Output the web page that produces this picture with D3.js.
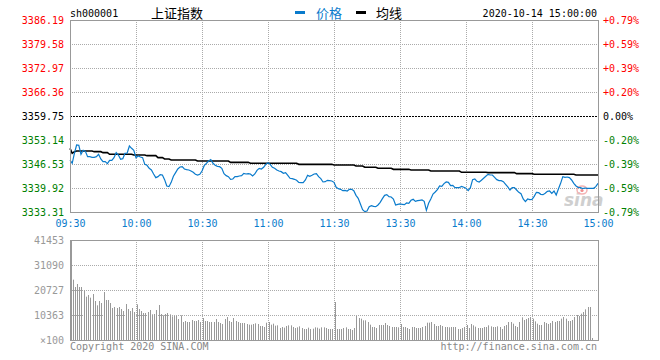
<!DOCTYPE html>
<html><head><meta charset="utf-8">
<script src="https://cdn.jsdelivr.net/npm/d3@7/dist/d3.min.js"></script>
<style>
html,body{margin:0;padding:0;background:#fff;}
svg{display:block;}
.mono{font-family:"DejaVu Sans Mono",monospace;font-size:10px;}
</style></head>
<body>
<svg id="c" width="660" height="360"></svg>
<script>
// ---------------- data ----------------
const symbol = "sh000001";
const indexName = "上证指数";
const stamp = "2020-10-14 15:00:00";
const prevClose = 3359.75;
const priceTicks = [3386.19,3379.58,3372.97,3366.36,3359.75,3353.14,3346.53,3339.92,3333.31];
const pctTicks = ["+0.79%","+0.59%","+0.39%","+0.20%","0.00%","-0.20%","-0.39%","-0.59%","-0.79%"];
const timeTicks = [0,30,60,90,120,150,180,210,240];
const timeLabels = ["09:30","10:00","10:30","11:00","11:30","13:30","14:00","14:30","15:00"];
const volTicks = [41453,31090,20727,10363,0];
const volLabels = ["41453","31090","20727","10363","×100"];

const price = [
3347.64,3346.72,3349.47,3351.77,3351.67,3349.20,3350.30,3350.02,3348.55,3348.55,
3348.37,3348.37,3348.55,3349.20,3347.91,3347.18,3347.18,3346.63,3347.54,3347.54,
3348.28,3349.65,3349.01,3347.82,3348.00,3349.47,3349.56,3351.49,3350.85,3350.30,
3348.28,3348.74,3348.46,3348.28,3346.44,3346.17,3345.34,3344.88,3343.78,3342.77,
3343.05,3343.60,3343.50,3342.22,3340.47,3340.29,3341.48,3343.14,3344.15,3345.16,
3345.71,3345.80,3345.16,3344.97,3344.88,3344.61,3344.24,3343.69,3343.50,3343.69,
3344.61,3346.07,3346.72,3347.36,3347.73,3346.72,3346.17,3345.89,3345.80,3345.34,
3343.87,3343.32,3343.05,3342.31,3342.40,3343.05,3343.05,3343.23,3343.32,3343.96,
3343.78,3343.87,3343.78,3343.23,3343.78,3344.79,3345.34,3345.16,3345.62,3346.44,
3346.90,3346.44,3345.62,3345.34,3344.88,3344.61,3344.42,3343.96,3344.15,3343.41,
3342.59,3342.49,3342.31,3342.04,3341.48,3341.39,3341.39,3342.13,3343.41,3343.14,
3343.41,3343.78,3343.87,3343.05,3342.49,3341.58,3341.67,3342.04,3341.94,3341.85,
3341.48,3340.11,3339.74,3339.56,3339.19,3339.28,3339.10,3339.56,3339.56,3339.19,
3337.90,3337.08,3335.52,3333.96,3333.41,3333.59,3334.78,3335.06,3334.88,3334.78,
3335.24,3335.98,3336.99,3337.90,3338.09,3337.54,3337.45,3336.89,3335.24,3335.43,
3335.52,3335.43,3335.33,3335.79,3335.70,3336.53,3336.80,3336.25,3336.44,3336.53,
3336.62,3336.25,3333.77,3335.70,3336.89,3338.27,3338.82,3339.46,3340.47,3340.38,
3341.12,3341.58,3341.48,3340.57,3340.66,3340.02,3340.02,3340.02,3340.38,3340.11,
3339.83,3339.19,3340.02,3342.22,3342.40,3341.76,3341.58,3342.04,3342.59,3343.14,
3343.69,3343.50,3343.50,3342.86,3342.22,3341.94,3341.94,3341.67,3340.93,3340.20,
3339.37,3340.02,3340.02,3339.37,3338.73,3338.36,3336.89,3336.16,3336.89,3336.71,
3336.80,3337.63,3338.73,3338.64,3338.18,3338.09,3338.46,3339.01,3339.10,3338.46,
3339.10,3338.00,3339.65,3341.21,3343.05,3342.86,3342.95,3342.77,3342.13,3341.21,
3340.47,3340.11,3340.02,3339.74,3339.92,3339.83,3339.83,3339.83,3339.83,3340.29,
3341.21];

const avgPrice = [
3350.85,3349.47,3349.93,3350.11,3350.11,3350.11,3350.11,3350.11,3350.11,3350.11,
3350.11,3349.93,3349.93,3349.93,3349.93,3349.65,3349.65,3349.65,3349.20,3349.20,
3349.20,3349.20,3349.20,3349.20,3349.20,3349.20,3349.20,3349.20,3349.20,3349.01,
3349.01,3349.01,3349.01,3349.01,3349.01,3348.83,3348.83,3348.83,3348.83,3348.83,
3348.28,3348.28,3348.28,3347.91,3347.91,3347.91,3347.64,3347.64,3347.64,3347.64,
3347.64,3347.64,3347.64,3347.64,3347.64,3347.64,3347.64,3347.64,3347.36,3347.36,
3347.36,3347.36,3347.36,3347.36,3347.36,3347.36,3347.36,3347.36,3347.36,3347.36,
3347.36,3347.36,3347.36,3346.99,3346.99,3346.99,3346.99,3346.99,3346.99,3346.99,
3346.99,3346.99,3346.72,3346.72,3346.72,3346.72,3346.72,3346.72,3346.72,3346.72,
3346.72,3346.72,3346.72,3346.72,3346.72,3346.72,3346.72,3346.72,3346.72,3346.72,
3346.72,3346.72,3346.72,3346.72,3346.44,3346.44,3346.44,3346.44,3346.44,3346.44,
3346.44,3346.44,3346.44,3346.44,3346.44,3346.44,3346.44,3346.44,3346.44,3346.44,
3346.26,3346.26,3346.26,3346.26,3346.26,3346.26,3346.26,3346.26,3346.26,3346.26,
3345.98,3345.98,3345.98,3345.98,3345.62,3345.62,3345.62,3345.62,3345.62,3345.62,
3345.34,3345.34,3345.34,3345.34,3345.34,3345.34,3345.34,3345.06,3345.06,3345.06,
3345.06,3345.06,3345.06,3345.06,3345.06,3344.88,3344.88,3344.88,3344.88,3344.88,
3344.88,3344.88,3344.88,3344.88,3344.61,3344.61,3344.61,3344.61,3344.61,3344.61,
3344.61,3344.61,3344.61,3344.61,3344.61,3344.61,3344.61,3344.61,3344.24,3344.24,
3344.24,3344.24,3344.24,3344.24,3344.24,3344.24,3344.24,3344.24,3344.24,3344.24,
3344.15,3344.15,3344.15,3344.15,3344.15,3344.15,3344.15,3344.15,3344.15,3344.15,
3344.15,3344.15,3344.15,3343.87,3343.87,3343.87,3343.87,3343.87,3343.87,3343.87,
3343.87,3343.69,3343.69,3343.69,3343.69,3343.69,3343.69,3343.69,3343.69,3343.69,
3343.69,3343.69,3343.69,3343.69,3343.69,3343.69,3343.69,3343.69,3343.69,3343.69,
3343.50,3343.50,3343.50,3343.50,3343.50,3343.50,3343.50,3343.50,3343.50,3343.50,
3343.50];

// volume, in units of 100
const volume = [
41453,25011,21971,23214,21971,21971,20589,17963,18654,17549,
19069,16167,14371,16167,15338,19898,16582,16582,15338,13265,
13680,13265,13680,12851,12022,14923,12851,12022,13265,11607,
14785,12851,12022,11193,11193,11607,12436,10640,10778,12436,
14509,10778,10225,10778,11193,10640,9811,9949,9949,8705,
10225,7462,7876,7462,7462,8291,7876,7876,8291,7462,
9120,7876,7876,7462,7462,7462,8705,7462,7047,6633,
8705,9534,7876,7462,9120,7876,7462,7047,7047,7047,
6633,6356,6356,6633,6909,6633,5804,5804,5389,7185,
7462,6356,6771,5942,6080,4974,5389,5113,5804,6080,
6080,5389,4974,5251,5665,4974,4560,4560,5113,4560,
4698,5251,5113,4698,5251,5251,4974,4560,4560,4560,
15753,4560,4560,4560,4974,5251,4560,4560,4145,4974,
9949,9120,8844,8153,8153,7462,6356,5389,5389,4974,
6218,6218,6218,7047,6218,5804,5389,5389,5389,5251,
6633,5389,5389,4974,4560,5389,5389,4974,4974,4974,
5389,5804,7185,7185,7462,6633,5804,5804,6218,5804,
5389,5389,5251,5389,5389,5389,4560,4560,4974,5389,
6218,4974,6633,6080,5527,4974,4974,4974,5389,5389,
6080,5665,5389,5389,5665,5389,4560,5804,6218,7462,
7462,6771,5804,5389,7462,9396,8291,8705,9120,9534,
8844,7738,6771,6218,6218,7462,7047,6633,7047,7876,
7462,7876,7876,8844,9534,8844,7876,7876,8291,9534,
10363,9949,10916,11607,12713,13680,13680,829,0,0,
0];

// ---------------- drawing ----------------
const svg = d3.select("#c");
const L = 70, R = 598, PT = 20, PB = 212, VT = 240, VB = 340;
const RED = "#ff0000", GREEN = "#008000", BLUE = "#0a7bcc", GRID = "#aaaaaa", FRAME = "#999999";

const x = d3.scaleLinear().domain([0, 240]).range([L, R]);
const y = d3.scaleLinear().domain([priceTicks[priceTicks.length-1], priceTicks[0]]).range([PB, PT]);
const yv = d3.scaleLinear().domain([0, volTicks[0]]).range([VB, VT]);

const px = v => Math.round(v) + 0.5;

// grids - price panel
const gGrid = svg.append("g");
priceTicks.forEach(t => {
  if (t === priceTicks[0] || t === priceTicks[priceTicks.length-1]) return;
  gGrid.append("line").attr("x1", L).attr("x2", R).attr("y1", px(y(t))).attr("y2", px(y(t)))
    .attr("stroke", t === prevClose ? "#000" : GRID)
    .attr("stroke-dasharray", t === prevClose ? "2,1" : "1,1");
});
timeTicks.slice(1, -1).forEach(t => {
  gGrid.append("line").attr("x1", px(x(t))).attr("x2", px(x(t))).attr("y1", PT).attr("y2", PB)
    .attr("stroke", GRID).attr("stroke-dasharray", "1,1");
});
// grids - volume panel
volTicks.slice(1, -1).forEach(t => {
  gGrid.append("line").attr("x1", L).attr("x2", R).attr("y1", px(yv(t))).attr("y2", px(yv(t)))
    .attr("stroke", GRID).attr("stroke-dasharray", "1,1");
});
timeTicks.slice(1, -1).forEach(t => {
  gGrid.append("line").attr("x1", px(x(t))).attr("x2", px(x(t))).attr("y1", VT).attr("y2", VB)
    .attr("stroke", GRID).attr("stroke-dasharray", "1,1");
});

// sina watermark
const wm = svg.append("g").attr("opacity", 0.8);
wm.append("text").attr("x", 564).attr("y", 206).attr("font-family", "DejaVu Sans, sans-serif")
  .attr("font-size", 17).attr("font-weight", "bold").attr("font-style", "italic")
  .attr("fill", "#c4c4c4").text("sina");
wm.append("ellipse").attr("cx", 582).attr("cy", 190).attr("rx", 5).attr("ry", 4)
  .attr("fill", "none").attr("stroke", "#f3a0a0").attr("stroke-width", 1.5);
wm.append("circle").attr("cx", 582).attr("cy", 190.5).attr("r", 1.6).attr("fill", "#f07070");

// volume bars
svg.append("g").selectAll("rect").data(volume).join("rect")
  .attr("x", (d, i) => Math.floor(x(i)) + 1)
  .attr("width", 1)
  .attr("y", d => yv(d))
  .attr("height", d => VB - yv(d))
  .attr("fill", "#999999");

// average line
svg.append("path").datum(avgPrice)
  .attr("d", d3.line().x((d, i) => x(i)).y(d => y(d)))
  .attr("fill", "none").attr("stroke", "#000").attr("stroke-width", 1.6);

// price line
svg.append("path").datum(price)
  .attr("d", d3.line().x((d, i) => x(i)).y(d => y(d)))
  .attr("fill", "none").attr("stroke", BLUE).attr("stroke-width", 1.2);

// frames
svg.append("rect").attr("x", L + 0.5).attr("y", PT + 0.5).attr("width", R - L).attr("height", PB - PT)
  .attr("fill", "none").attr("stroke", FRAME);
svg.append("rect").attr("x", L + 0.5).attr("y", VT + 0.5).attr("width", R - L).attr("height", VB - VT)
  .attr("fill", "none").attr("stroke", FRAME);

// axes
function styleAxis(g) {
  g.select(".domain").remove();
  g.selectAll("line").remove();
  g.selectAll("text").attr("class", "mono").attr("font-family", null).attr("font-size", null);
}
const colorOf = v => v > prevClose ? RED : (v < prevClose ? GREEN : "#000");

svg.append("g").attr("transform", `translate(${L},0)`)
  .call(d3.axisLeft(y).tickValues(priceTicks).tickFormat(d3.format(".2f")).tickSize(0).tickPadding(6))
  .call(styleAxis)
  .selectAll("text").attr("fill", d => colorOf(d));

svg.append("g").attr("transform", `translate(${R},0)`)
  .call(d3.axisRight(y).tickValues(priceTicks).tickFormat((d, i) => pctTicks[i]).tickSize(0).tickPadding(5))
  .call(styleAxis)
  .selectAll("text").attr("fill", d => colorOf(d));

svg.append("g").attr("transform", `translate(0,${PB})`)
  .call(d3.axisBottom(x).tickValues(timeTicks).tickFormat((d, i) => timeLabels[i]).tickSize(0).tickPadding(8))
  .call(styleAxis)
  .selectAll("text").attr("fill", BLUE);

svg.append("g").attr("transform", `translate(${L},0)`)
  .call(d3.axisLeft(yv).tickValues(volTicks).tickFormat((d, i) => volLabels[i]).tickSize(0).tickPadding(6))
  .call(styleAxis)
  .selectAll("text").attr("fill", "#999999");

// header
svg.append("text").attr("class", "mono").attr("x", 70).attr("y", 17).attr("fill", "#000").text(symbol);
svg.append("text").attr("x", 151).attr("y", 18).attr("font-family", "Noto Sans CJK SC").attr("font-size", 13)
  .attr("fill", "#000").text(indexName);
svg.append("rect").attr("x", 295).attr("y", 11).attr("width", 10).attr("height", 3).attr("fill", BLUE);
svg.append("text").attr("x", 316).attr("y", 18).attr("font-family", "Noto Sans CJK SC").attr("font-size", 13)
  .attr("fill", BLUE).text("价格");
svg.append("rect").attr("x", 356).attr("y", 11).attr("width", 10).attr("height", 3).attr("fill", "#000");
svg.append("text").attr("x", 376).attr("y", 18).attr("font-family", "Noto Sans CJK SC").attr("font-size", 13)
  .attr("fill", "#000").text("均线");
svg.append("text").attr("class", "mono").attr("x", 597).attr("y", 17).attr("text-anchor", "end")
  .attr("fill", "#000").text(stamp);

// footer
svg.append("text").attr("class", "mono").attr("x", 70).attr("y", 350).attr("fill", "#888").text("Copyright 2020 SINA.COM");
svg.append("text").attr("class", "mono").attr("x", 597).attr("y", 350).attr("text-anchor", "end")
  .attr("fill", "#888").text("http://finance.sina.com.cn");
</script>
</body></html>
